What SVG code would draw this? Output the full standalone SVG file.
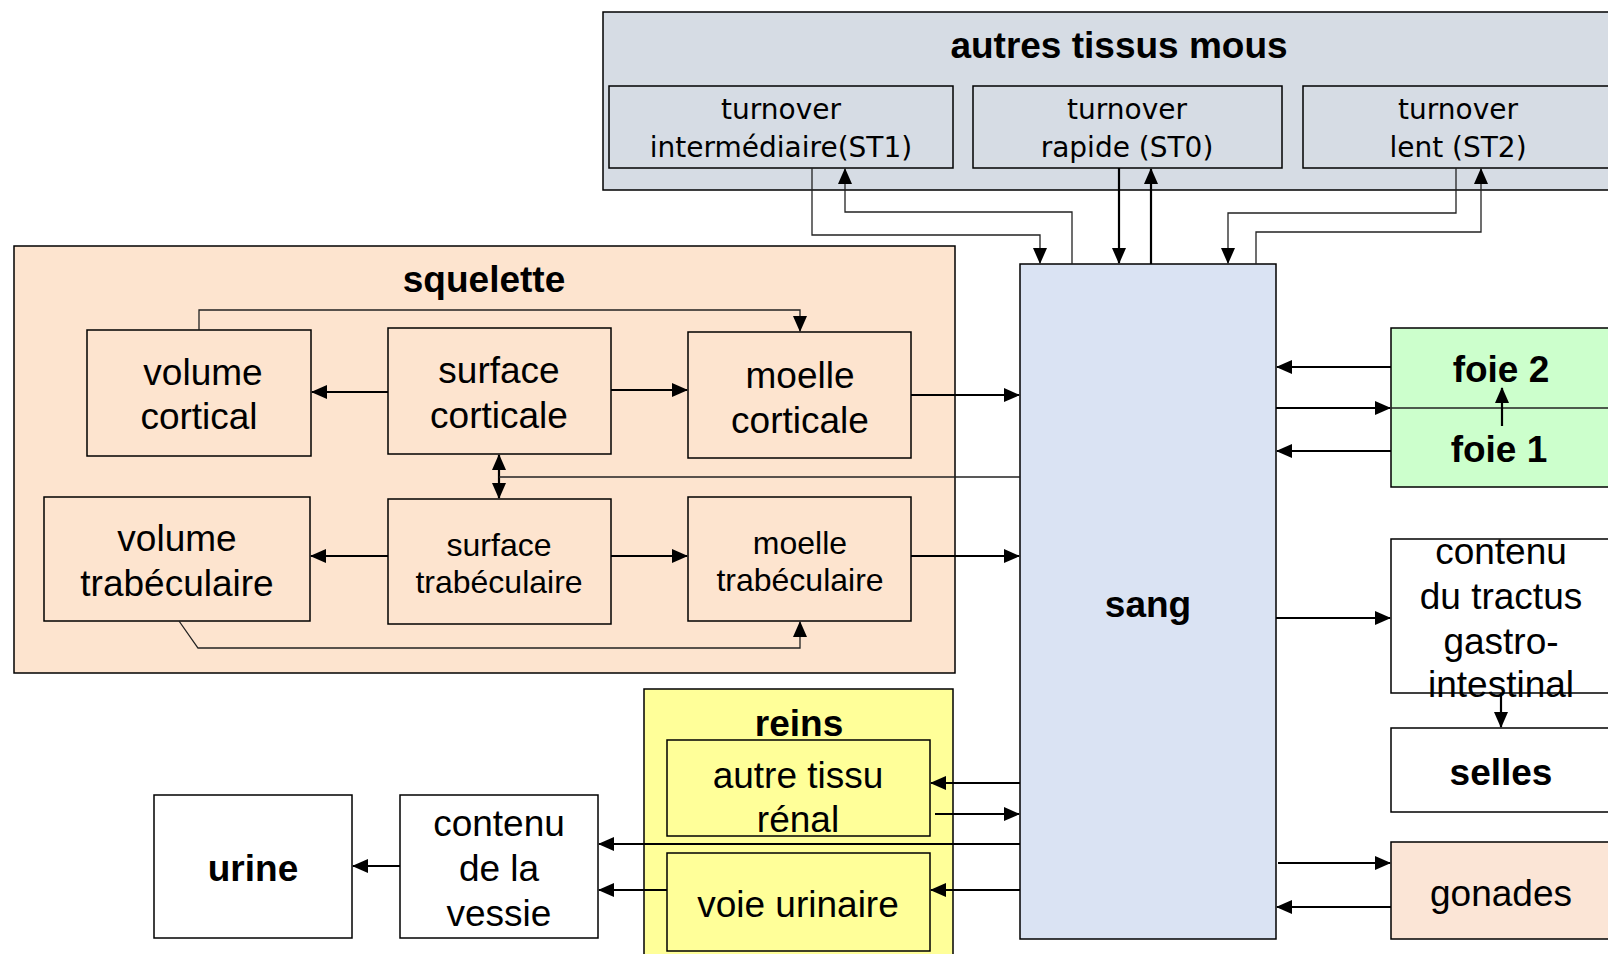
<svg xmlns="http://www.w3.org/2000/svg" width="1608" height="954" viewBox="0 0 1608 954">
<style>
.box{stroke:#000;stroke-width:1.5}
.t{font-family:"Liberation Sans",Arial,sans-serif;font-size:37px;fill:#000;text-anchor:middle}
.b{font-weight:bold}
.s{font-size:32px}
.dj{font-family:"DejaVu Sans",sans-serif;font-size:28px;fill:#000;text-anchor:middle}
.a{stroke:#000;stroke-width:2.2;fill:none}
.th{stroke:#222;stroke-width:1.3;fill:none}
</style>
<defs>
<marker id="ah" markerUnits="userSpaceOnUse" markerWidth="16" markerHeight="14" refX="15" refY="7" orient="auto">
<path d="M0,0 L16,7 L0,14 Z" fill="#000"/>
</marker>
</defs>
<rect width="1608" height="954" fill="#fff"/>

<g id="autres-tissus">
<rect class="box" x="603" y="12" width="1010" height="178" fill="#d6dce4"/>
<text class="t b" x="1119" y="58">autres tissus mous</text>
</g>
<g id="st1">
<rect class="box" x="609" y="86" width="344" height="82" fill="#d6dce4"/>
<text class="dj" x="781" y="119">turnover</text>
<text class="dj" x="781" y="157">intermédiaire(ST1)</text>
</g>
<g id="st0">
<rect class="box" x="973" y="86" width="309" height="82" fill="#d6dce4"/>
<text class="dj" x="1127" y="119">turnover</text>
<text class="dj" x="1127" y="157">rapide (ST0)</text>
</g>
<g id="st2">
<rect class="box" x="1303" y="86" width="310" height="82" fill="#d6dce4"/>
<text class="dj" x="1458" y="119">turnover</text>
<text class="dj" x="1458" y="157">lent (ST2)</text>
</g>

<g id="squelette">
<rect class="box" x="14" y="246" width="941" height="427" fill="#fde4cf"/>
<text class="t b" x="484" y="292">squelette</text>
</g>
<g id="volume-cortical">
<rect class="box" x="87" y="330" width="224" height="126" fill="#fde4cf"/>
<text class="t" x="203" y="385">volume</text>
<text class="t" x="199" y="429">cortical</text>
</g>
<g id="surface-corticale">
<rect class="box" x="388" y="328" width="223" height="126" fill="#fde4cf"/>
<text class="t" x="499" y="383">surface</text>
<text class="t" x="499" y="428">corticale</text>
</g>
<g id="moelle-corticale">
<rect class="box" x="688" y="332" width="223" height="126" fill="#fde4cf"/>
<text class="t" x="800" y="388">moelle</text>
<text class="t" x="800" y="433">corticale</text>
</g>
<g id="volume-trabeculaire">
<rect class="box" x="44" y="497" width="266" height="124" fill="#fde4cf"/>
<text class="t" x="177" y="551">volume</text>
<text class="t" x="177" y="596">trabéculaire</text>
</g>
<g id="surface-trabeculaire">
<rect class="box" x="388" y="499" width="223" height="125" fill="#fde4cf"/>
<text class="t s" x="499" y="556">surface</text>
<text class="t s" x="499" y="593">trabéculaire</text>
</g>
<g id="moelle-trabeculaire">
<rect class="box" x="688" y="497" width="223" height="124" fill="#fde4cf"/>
<text class="t s" x="800" y="554">moelle</text>
<text class="t s" x="800" y="591">trabéculaire</text>
</g>

<g id="sang">
<rect class="box" x="1020" y="264" width="256" height="675" fill="#dae3f3"/>
<text class="t b" x="1148" y="617">sang</text>
</g>

<g id="foie">
<rect class="box" x="1391" y="328" width="222" height="159" fill="#ccffcc"/>
<text class="t b" x="1501" y="382">foie 2</text>
<text class="t b" x="1499" y="462">foie 1</text>
</g>
<g id="tractus">
<rect class="box" x="1391" y="539" width="222" height="154" fill="#fff"/>
<text class="t" x="1501" y="564">contenu</text>
<text class="t" x="1501" y="609">du tractus</text>
<text class="t" x="1501" y="654">gastro-</text>
<text class="t" x="1501" y="697">intestinal</text>
</g>
<g id="selles">
<rect class="box" x="1391" y="728" width="222" height="84" fill="#fff"/>
<text class="t b" x="1501" y="785">selles</text>
</g>
<g id="gonades">
<rect class="box" x="1391" y="842" width="222" height="97" fill="#fbe5d6"/>
<text class="t" x="1501" y="906">gonades</text>
</g>

<g id="reins">
<rect class="box" x="644" y="689" width="309" height="275" fill="#ffff99"/>
<text class="t b" x="799" y="736">reins</text>
</g>
<g id="autre-tissu-renal">
<rect class="box" x="667" y="740" width="263" height="96" fill="#ffff99"/>
<text class="t" x="798" y="788">autre tissu</text>
<text class="t" x="798" y="832">rénal</text>
</g>
<g id="voie-urinaire">
<rect class="box" x="667" y="853" width="263" height="98" fill="#ffff99"/>
<text class="t" x="798" y="917">voie urinaire</text>
</g>
<g id="vessie">
<rect class="box" x="400" y="795" width="198" height="143" fill="#fff"/>
<text class="t" x="499" y="836">contenu</text>
<text class="t" x="499" y="881">de la</text>
<text class="t" x="499" y="926">vessie</text>
</g>
<g id="urine">
<rect class="box" x="154" y="795" width="198" height="143" fill="#fff"/>
<text class="t b" x="253" y="881">urine</text>
</g>

<g id="connectors">
<path class="th" d="M812,168 V235 H1040 V263" marker-end="url(#ah)"/>
<path class="th" d="M1072,264 V212 H845 V169" marker-end="url(#ah)"/>
<path class="a" d="M1119,168 V263" marker-end="url(#ah)"/>
<path class="a" d="M1151,264 V169" marker-end="url(#ah)"/>
<path class="th" d="M1456,168 V213 H1228 V263" marker-end="url(#ah)"/>
<path class="th" d="M1256,264 V232 H1481 V169" marker-end="url(#ah)"/>
<path class="th" d="M199,330 V310 H800 V331" marker-end="url(#ah)"/>
<path class="a" d="M388,392 H312" marker-end="url(#ah)"/>
<path class="a" d="M611,390 H687" marker-end="url(#ah)"/>
<path class="a" d="M499,477 V455" marker-end="url(#ah)"/>
<path class="a" d="M499,477 V498" marker-end="url(#ah)"/>
<path class="th" d="M1020,477 H499"/>
<path class="a" d="M388,556 H311" marker-end="url(#ah)"/>
<path class="a" d="M611,556 H687" marker-end="url(#ah)"/>
<path class="th" d="M179,621 L198,648 H800 V622" marker-end="url(#ah)"/>
<path class="a" d="M911,395 H1019" marker-end="url(#ah)"/>
<path class="a" d="M911,556 H1019" marker-end="url(#ah)"/>
<path class="a" d="M1391,367 H1277" marker-end="url(#ah)"/>
<path class="a" d="M1276,408 H1390" marker-end="url(#ah)"/>
<path class="th" d="M1391,408 H1608"/>
<path class="a" d="M1391,451 H1277" marker-end="url(#ah)"/>
<path class="a" d="M1502,426 V388" marker-end="url(#ah)"/>
<path class="a" d="M1276,618 H1390" marker-end="url(#ah)"/>
<path class="a" d="M1501,693 V727" marker-end="url(#ah)"/>
<path class="a" d="M1278,863 H1390" marker-end="url(#ah)"/>
<path class="a" d="M1391,907 H1277" marker-end="url(#ah)"/>
<path class="a" d="M1020,783 H931" marker-end="url(#ah)"/>
<path class="a" d="M935,814 H1019" marker-end="url(#ah)"/>
<path class="a" d="M1020,844 H599" marker-end="url(#ah)"/>
<path class="a" d="M1020,890 H931" marker-end="url(#ah)"/>
<path class="a" d="M667,890 H599" marker-end="url(#ah)"/>
<path class="a" d="M400,866 H353" marker-end="url(#ah)"/>
</g>
</svg>
